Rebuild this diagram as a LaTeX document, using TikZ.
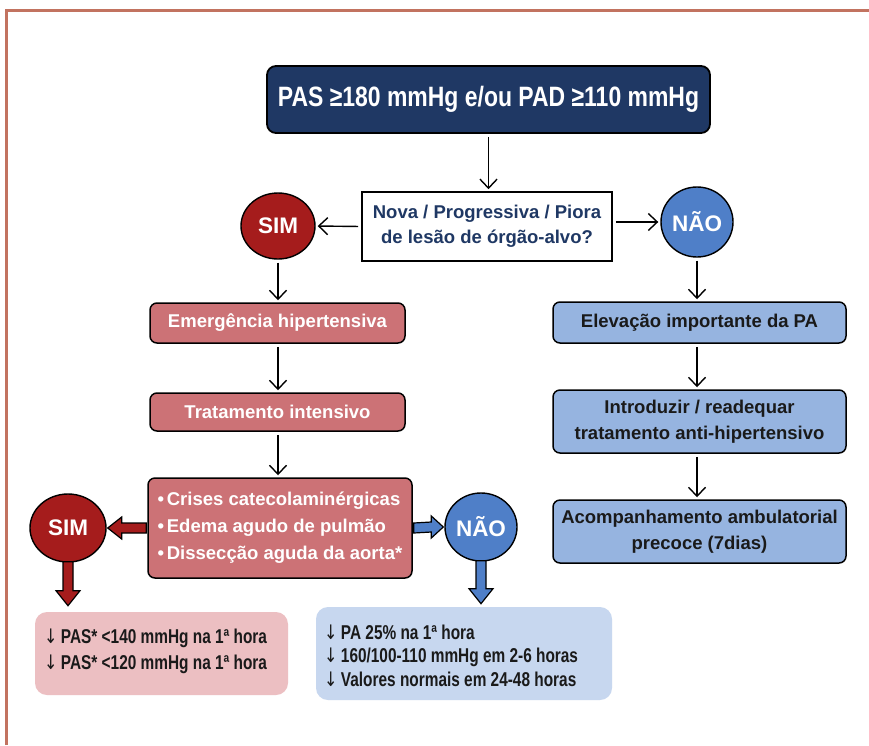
\documentclass[tikz,border=0pt]{standalone}
\usepackage{fontspec}
\setmainfont{Liberation Sans}
\newfontfamily\narrowfont[FakeStretch=0.82]{Liberation Sans}
\newfontfamily\notefont[FakeStretch=0.77]{Liberation Sans}
\newfontfamily\arrowglyph[FakeStretch=0.8]{DejaVu Sans}
\newcommand{\down}{{\arrowglyph\mdseries ↓}\,}
\usetikzlibrary{arrows.meta,calc,shapes.geometric}

\definecolor{framec}{HTML}{C27360}
\definecolor{navybg}{HTML}{1F3864}
\definecolor{qtext}{HTML}{1F3864}
\definecolor{simred}{HTML}{A51C1C}
\definecolor{naoblue}{HTML}{4F7FC8}
\definecolor{rosefill}{HTML}{CC7276}
\definecolor{bluefill}{HTML}{96B4E0}
\definecolor{pinkbg}{HTML}{ECBFC2}
\definecolor{lightbluebg}{HTML}{C7D7EF}
\definecolor{darktext}{HTML}{1A1A1A}

\tikzset{
  x=1pt, y=1pt,
  frameline/.style={draw=framec, line width=3pt},
  topbox/.style={draw=black, line width=1.8pt, rounded corners=9pt, fill=navybg,
    text=white, minimum width=443pt, minimum height=67pt, inner sep=0pt,
    font=\narrowfont\bfseries\fontsize{28}{30}\selectfont},
  qbox/.style={draw=black, line width=1.6pt, fill=white, text=qtext, align=center,
    minimum width=250pt, minimum height=69pt, inner sep=0pt,
    font=\bfseries\fontsize{18.5}{25}\selectfont},
  oval/.style={ellipse, draw=black, line width=1.4pt, inner sep=0pt,
    minimum width=74pt, minimum height=66pt, text=white,
    font=\bfseries\fontsize{22.5}{26}\selectfont},
  simoval/.style={oval, fill=simred},
  naooval/.style={oval, fill=naoblue},
  rosebox/.style={draw=black, line width=1.5pt, rounded corners=7pt, fill=rosefill,
    text=white, minimum width=255pt, inner sep=0pt,
    font=\bfseries\fontsize{18.5}{22}\selectfont},
  bluebox/.style={draw=black, line width=1.5pt, rounded corners=7pt, fill=bluefill,
    text=darktext, minimum width=293pt, inner sep=0pt, align=center,
    font=\bfseries\fontsize{18.5}{25.5}\selectfont},
  notebox/.style={rounded corners=12pt, inner sep=0pt},
  notetext/.style={anchor=west, align=left, text=darktext, inner sep=0pt},
  flow/.style={-{Straight Barb[length=9pt,width=17pt,line width=1.4pt]},
    line width=1.4pt, shorten <=3pt, shorten >=2pt},
  blockred/.style={draw=black, line width=1.2pt, fill=simred, line join=miter},
  blockblue/.style={draw=black, line width=1.2pt, fill=naoblue, line join=miter},
}

\begin{document}
\begin{tikzpicture}
% canvas
\fill[white] (0,0) rectangle (869,-745);
\useasboundingbox (0,0) rectangle (869,-745);
\draw[frameline] (6,-745) -- (6,-10) -- (869,-10);

% header and question
\node[topbox] (top) at (488.5,-99.5) {PAS ≥180 mmHg e/ou PAD ≥110 mmHg};
\node[qbox] (q) at (487,-226.5) {Nova / Progressiva / Piora\\de lesão de órgão-alvo?};
\node[simoval] (sim1) at (278,-226) {SIM};
\node[naooval, minimum width=72pt, minimum height=70pt] (nao1) at (697,-222) {NÃO};

% emergency branch
\node[rosebox, minimum height=40pt] (emerg) at (277.5,-323) {Emergência hipertensiva};
\node[rosebox, minimum height=38pt] (trat) at (277.5,-412) {Tratamento intensivo};
\node[rosebox, minimum width=264pt, minimum height=100pt, align=left,
  font=\bfseries\fontsize{18.5}{27}\selectfont] (list) at (280,-528)
  {•\hspace{0.15em}Crises catecolaminérgicas\\•\hspace{0.15em}Edema agudo de pulmão\\•\hspace{0.15em}Dissecção aguda da aorta*};
\node[simoval, minimum width=76pt, minimum height=68pt] (sim2) at (68,-528) {SIM};
\node[naooval, minimum width=72pt, minimum height=68pt] (nao2) at (481,-527) {NÃO};

% target notes
\node[notebox, fill=pinkbg, minimum width=253pt, minimum height=83pt] (pink) at (161.5,-653.5) {};
\node[notetext, font=\notefont\bfseries\fontsize{20}{26}\selectfont] (pinktxt) at (44,-651)
  {\down PAS* <140 mmHg na 1ª hora\\\down PAS* <120 mmHg na 1ª hora};
\node[notebox, fill=lightbluebg, minimum width=296pt, minimum height=93pt] (bluebot) at (464,-653.5) {};
\node[notetext, font=\notefont\bfseries\fontsize{20}{23.5}\selectfont] (bluetxt) at (324,-655.5)
  {\down PA 25\% na 1ª hora\\\down 160/100-110 mmHg em 2-6 horas\\\down Valores normais em 24-48 horas};

% non-emergency branch
\node[bluebox, minimum height=41pt] (elev) at (699.5,-322.5) {Elevação importante da PA};
\node[bluebox, minimum height=63pt] (intro) at (699.5,-421.5) {Introduzir / readequar\\tratamento anti-hipertensivo};
\node[bluebox, minimum height=63pt] (acomp) at (699.5,-531.5) {Acompanhamento ambulatorial\\precoce (7dias)};

% thin connectors
\draw[flow] (top.south) -- (top.south |- q.north);
\draw[flow] (q.west) -- (sim1.east);
\draw[flow] (q.east |- nao1.west) -- (nao1.west);
\draw[flow] (sim1.south) -- (sim1.south |- emerg.north);
\draw[flow] (emerg.south -| sim1.south) -- (sim1.south |- trat.north);
\draw[flow] (trat.south -| sim1.south) -- (sim1.south |- list.north);
\draw[flow] (nao1.south) -- (nao1.south |- elev.north);
\draw[flow] (elev.south -| nao1.south) -- (nao1.south |- intro.north);
\draw[flow] (intro.south -| nao1.south) -- (nao1.south |- acomp.north);

% block arrows
\draw[blockred] ($(list.west)+(-1,5)$) -- ($(sim2.east)+(15,5)$) -- ($(sim2.east)+(15,11)$)
  -- ($(sim2.east)+(1,0)$) -- ($(sim2.east)+(15,-11)$) -- ($(sim2.east)+(15,-5)$)
  -- ($(list.west)+(-1,-5)$) -- cycle;
\draw[blockblue] ($(list.east)+(1,5)$) -- ($(nao2.west)+(-13,5)$) -- ($(nao2.west)+(-13,11)$)
  -- ($(nao2.west)+(-1,0)$) -- ($(nao2.west)+(-13,-11)$) -- ($(nao2.west)+(-13,-5)$)
  -- ($(list.east)+(1,-5)$) -- cycle;
\coordinate (sim2tip) at ($(sim2.south)+(0,-43)$);
\draw[blockred] ($(sim2.south)+(-5,1)$) -- ($(sim2tip)+(-5,15)$) -- ($(sim2tip)+(-12,15)$)
  -- (sim2tip) -- ($(sim2tip)+(12,15)$) -- ($(sim2tip)+(5,15)$) -- ($(sim2.south)+(5,1)$) -- cycle;
\coordinate (nao2tip) at ($(nao2.south)+(0,-42)$);
\draw[blockblue] ($(nao2.south)+(-5,1)$) -- ($(nao2tip)+(-5,15)$) -- ($(nao2tip)+(-12,15)$)
  -- (nao2tip) -- ($(nao2tip)+(12,15)$) -- ($(nao2tip)+(5,15)$) -- ($(nao2.south)+(5,1)$) -- cycle;
\end{tikzpicture}
\end{document}
